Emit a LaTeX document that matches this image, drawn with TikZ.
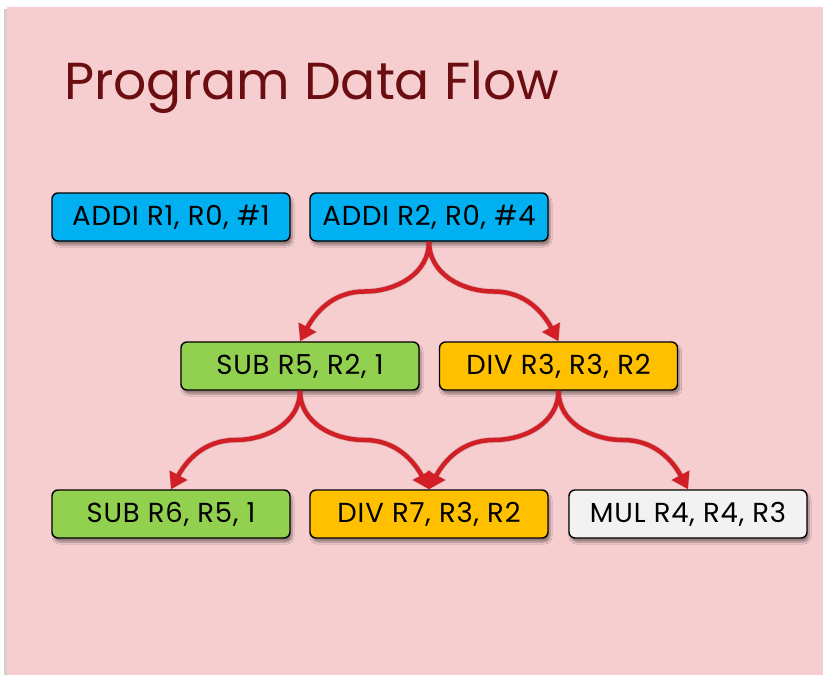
\documentclass[tikz,border=0pt]{standalone}
\usepackage{fontspec}
\setmainfont{Poppins}
\newfontfamily\boxfont[LetterSpace=3]{Poppins}
\usetikzlibrary{arrows.meta,shadows,shadows.blur,calc}
\definecolor{slidebg}{HTML}{F6CED0}
\definecolor{titlered}{HTML}{6B0E12}
\definecolor{cblue}{HTML}{00B0F0}
\definecolor{cgreen}{HTML}{92D050}
\definecolor{corange}{HTML}{FFC000}
\definecolor{cwhite}{HTML}{F2F2F2}
\definecolor{flowred}{HTML}{D21F26}
\tikzset{
  instr/.style={draw=black, line width=1.4pt, rounded corners=6pt,
    minimum width=238pt, minimum height=48pt, inner sep=0pt,
    font=\boxfont\fontsize{27.5}{30}\selectfont,
    blur shadow={shadow xshift=2pt, shadow yshift=-4pt, shadow blur steps=6, shadow opacity=40}},
  flow/.style={draw=flowred, line width=4.5pt, -{Triangle[length=16pt,width=19pt]}},
  flowshade/.style={draw=black, opacity=0.12, line width=6pt, -{Triangle[length=16pt,width=21pt]}}
}
% S-shaped connector: leaves straight down, levels out half way, lands slanted
\newcommand\flowpath[4]{% style, source, target, side (l or r)
  \if#4l
    \draw[#1] (#2.south) to[out=-90,in=0] ($(#2.south)!0.5!(#3.north)$)
                         to[out=180,in=62] (#3.north);
  \else
    \draw[#1] (#2.south) to[out=-90,in=180] ($(#2.south)!0.5!(#3.north)$)
                         to[out=0,in=118] (#3.north);
  \fi}
\begin{document}
\begin{tikzpicture}[x=1pt,y=-1pt]
  \useasboundingbox (0,0) rectangle (823,675);
  \fill[white] (0,0) rectangle (823,675);
  \fill[black!18] (4,9) rectangle (8,675);
  \fill[slidebg] (7,7) rectangle (823,675);

  \node[anchor=base west, text=titlered, inner sep=0pt,
        font=\fontsize{52}{58}\selectfont] (title) at (64,99) {Program Data Flow};

  \node[instr, fill=cblue]   (a1) at (171,217) {ADDI R1, R0, \#1};
  \node[instr, fill=cblue]   (a2) at (429,217) {ADDI R2, R0, \#4};
  \node[instr, fill=cgreen]  (s5) at (300,366) {SUB R5, R2, 1};
  \node[instr, fill=corange] (d3) at (558.5,366) {DIV R3, R3, R2};
  \node[instr, fill=cgreen]  (s6) at (171,514) {SUB R6, R5, 1};
  \node[instr, fill=corange] (d7) at (429,514) {DIV R7, R3, R2};
  \node[instr, fill=cwhite]  (m4) at (688,514) {MUL R4, R4, R3};

  % soft shadows under the data-flow arrows
  \begin{scope}[shift={(2,3)}]
    \foreach \s/\t/\d in {a2/s5/l, a2/d3/r, s5/s6/l, s5/d7/r, d3/d7/l, d3/m4/r}
      {\flowpath{flowshade}{\s}{\t}{\d}}
  \end{scope}

  % data-flow arrows
  \foreach \s/\t/\d in {a2/s5/l, a2/d3/r, s5/s6/l, s5/d7/r, d3/d7/l, d3/m4/r}
    {\flowpath{flow}{\s}{\t}{\d}}
\end{tikzpicture}
\end{document}
